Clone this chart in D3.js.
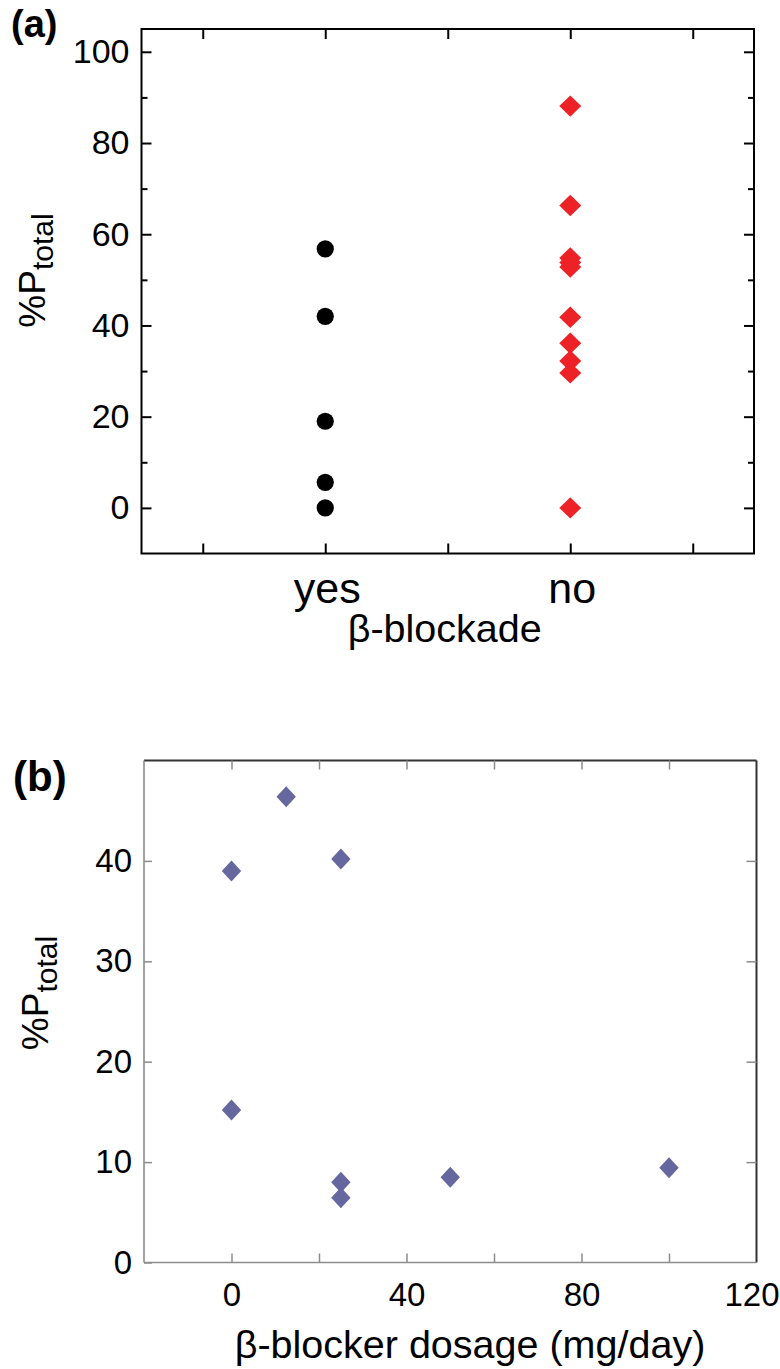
<!DOCTYPE html>
<html>
<head>
<meta charset="utf-8">
<script src="https://cdn.jsdelivr.net/npm/d3@7"></script>
<style>
  html, body { margin: 0; padding: 0; background: #fff; }
  svg { display: block; font-family: "Liberation Sans", Arial, Helvetica, sans-serif; }
</style>
</head>
<body>
<svg id="chart" width="780" height="1369"></svg>
<script>
// ---------- Data ----------
const categoriesA = ["yes", "no"];
const yesValues = [56.8, 42.0, 19.0, 5.6, 0];
const noValues = [88.1, 66.3, 54.8, 53.8, 52.8, 41.8, 36.1, 32.2, 29.6, 0];
const yTicksA = [0, 20, 40, 60, 80, 100];
const yMinorTicksA = [10, 30, 50, 70, 90];
const xTicksA = [0.5, 1.5, 2.5, 3.5, 4.5];

const dosage = [0, 0, 12.5, 25, 25, 25, 50, 100];
const pctB = [39.0, 15.2, 46.4, 40.2, 8.0, 6.45, 8.5, 9.43];
const yTicksB = [0, 10, 20, 30, 40];
const xTicksB = [0, 20, 40, 60, 80, 100];
const xTickLabelsB = [0, 40, 80, 120];

const svg = d3.select("#chart");

// custom diamond symbol with given half-width / half-height
function diamond(hw, hh) {
  return {
    draw(ctx) {
      ctx.moveTo(0, -hh);
      ctx.lineTo(hw, 0);
      ctx.lineTo(0, hh);
      ctx.lineTo(-hw, 0);
      ctx.closePath();
    }
  };
}

// ================= Panel (a) =================
const A = { left: 141.5, right: 754, top: 29, bottom: 553.5 };
const xA = d3.scaleLinear().domain([0, 5]).range([A.left, A.right]);
const yA = d3.scaleLinear().domain([-10, 105]).range([A.bottom, A.top]);
const catPos = c => 1.5 + 2 * categoriesA.indexOf(c);

const gA = svg.append("g");

// frame
gA.append("rect")
  .attr("x", A.left).attr("y", A.top)
  .attr("width", A.right - A.left).attr("height", A.bottom - A.top)
  .attr("fill", "none").attr("stroke", "#000").attr("stroke-width", 2);

function styleAxis(g, color, width) {
  g.select(".domain").remove();
  g.selectAll(".tick line").attr("stroke", color).attr("stroke-width", width);
}

// left major
gA.append("g").attr("transform", `translate(${A.left},0)`)
  .call(d3.axisLeft(yA).tickValues(yTicksA).tickSize(-10).tickPadding(12).tickFormat(d3.format("d")))
  .call(g => styleAxis(g, "#000", 2))
  .call(g => g.selectAll("text").attr("font-size", 34).attr("fill", "#000")
        .attr("font-family", "Liberation Sans, Arial, sans-serif"));
// left minor
gA.append("g").attr("transform", `translate(${A.left},0)`)
  .call(d3.axisLeft(yA).tickValues(yMinorTicksA).tickSize(-6).tickFormat(""))
  .call(g => styleAxis(g, "#000", 2));
// right major/minor
gA.append("g").attr("transform", `translate(${A.right},0)`)
  .call(d3.axisRight(yA).tickValues(yTicksA).tickSize(-10).tickFormat(""))
  .call(g => styleAxis(g, "#000", 2));
gA.append("g").attr("transform", `translate(${A.right},0)`)
  .call(d3.axisRight(yA).tickValues(yMinorTicksA).tickSize(-6).tickFormat(""))
  .call(g => styleAxis(g, "#000", 2));
// bottom / top ticks
gA.append("g").attr("transform", `translate(0,${A.bottom})`)
  .call(d3.axisBottom(xA).tickValues(xTicksA).tickSize(-10).tickFormat(""))
  .call(g => styleAxis(g, "#000", 2));
gA.append("g").attr("transform", `translate(0,${A.top})`)
  .call(d3.axisTop(xA).tickValues(xTicksA).tickSize(-10).tickFormat(""))
  .call(g => styleAxis(g, "#000", 2));

// category labels
gA.selectAll("text.cat").data(categoriesA).join("text")
  .attr("class", "cat")
  .attr("x", d => xA(catPos(d)) + 2)
  .attr("y", 603)
  .attr("text-anchor", "middle")
  .attr("font-size", 43)
  .text(d => d);

// axis titles
gA.append("text")
  .attr("x", (A.left + A.right) / 2 - 3).attr("y", 642)
  .attr("text-anchor", "middle").attr("font-size", 39.5)
  .text("β-blockade");

const yLabA = gA.append("text")
  .attr("transform", "translate(45,270.5) rotate(-90)")
  .attr("text-anchor", "middle").attr("font-size", 37);
yLabA.append("tspan").text("%P");
yLabA.append("tspan").attr("font-size", 30).attr("dy", 8).text("total");

gA.append("text").attr("x", 11).attr("y", 37)
  .attr("font-size", 38).attr("font-weight", "bold").text("(a)");

// points
gA.selectAll("circle.yes").data(yesValues).join("circle")
  .attr("class", "yes")
  .attr("cx", xA(catPos("yes")))
  .attr("cy", d => yA(d))
  .attr("r", 8.6)
  .attr("fill", "#000");

const diamA = d3.symbol().type(diamond(11, 10.7));
gA.selectAll("path.no").data(noValues).join("path")
  .attr("class", "no")
  .attr("d", diamA)
  .attr("transform", d => `translate(${xA(catPos("no"))},${yA(d)})`)
  .attr("fill", "#ed2226");

// ================= Panel (b) =================
const B = { left: 144, right: 756.5, top: 760.5, bottom: 1262.5 };
const xB = d3.scaleLinear().domain([-20, 120]).range([B.left, B.right]);
const yB = d3.scaleLinear().domain([0, 50]).range([B.bottom, B.top]);

const gB = svg.append("g");
const gray = "#8c8c8c";
const dark = "#333";

// top and right frame (dark)
gB.append("line").attr("x1", B.left).attr("x2", B.right).attr("y1", B.top).attr("y2", B.top)
  .attr("stroke", dark).attr("stroke-width", 2);
gB.append("line").attr("x1", B.right).attr("x2", B.right).attr("y1", B.top).attr("y2", B.bottom)
  .attr("stroke", dark).attr("stroke-width", 2);
// left and bottom (gray)
gB.append("line").attr("x1", B.left).attr("x2", B.left).attr("y1", B.top).attr("y2", B.bottom)
  .attr("stroke", gray).attr("stroke-width", 1.6);
gB.append("line").attr("x1", B.left).attr("x2", B.right).attr("y1", B.bottom).attr("y2", B.bottom)
  .attr("stroke", gray).attr("stroke-width", 1.6);

// left axis
gB.append("g").attr("transform", `translate(${B.left},0)`)
  .call(d3.axisLeft(yB).tickValues(yTicksB).tickSize(-8).tickPadding(12).tickFormat(d3.format("d")))
  .call(g => styleAxis(g, gray, 1.5))
  .call(g => g.selectAll("text").attr("font-size", 33).attr("fill", "#000")
        .attr("font-family", "Liberation Sans, Arial, sans-serif"));
// right axis ticks
gB.append("g").attr("transform", `translate(${B.right},0)`)
  .call(d3.axisRight(yB).tickValues(yTicksB.filter(d => d > 0)).tickSize(-10).tickFormat(""))
  .call(g => styleAxis(g, gray, 1.5));
// bottom ticks
gB.append("g").attr("transform", `translate(0,${B.bottom})`)
  .call(d3.axisBottom(xB).tickValues(xTicksB).tickSize(-9).tickFormat(""))
  .call(g => styleAxis(g, gray, 1.5));
// bottom labels
gB.append("g").attr("transform", `translate(0,${B.bottom})`)
  .call(d3.axisBottom(xB).tickValues(xTickLabelsB).tickSize(0).tickPadding(20).tickFormat(d3.format("d")))
  .call(g => g.select(".domain").remove())
  .call(g => g.selectAll(".tick line").remove())
  .call(g => g.selectAll("text").attr("font-size", 33).attr("fill", "#000")
        .attr("font-family", "Liberation Sans, Arial, sans-serif")
        .attr("dx", d => d === 120 ? -5 : 0));
// top ticks
gB.append("g").attr("transform", `translate(0,${B.top})`)
  .call(d3.axisTop(xB).tickValues(xTicksB).tickSize(-9).tickFormat(""))
  .call(g => styleAxis(g, gray, 1.5));

// titles
gB.append("text")
  .attr("x", 470).attr("y", 1358)
  .attr("text-anchor", "middle").attr("font-size", 39.5)
  .text("β-blocker dosage (mg/day)");

const yLabB = gB.append("text")
  .attr("transform", "translate(48,993) rotate(-90)")
  .attr("text-anchor", "middle").attr("font-size", 37);
yLabB.append("tspan").text("%P");
yLabB.append("tspan").attr("font-size", 30).attr("dy", 9).text("total");

gB.append("text").attr("x", 13).attr("y", 791)
  .attr("font-size", 42).attr("font-weight", "bold").text("(b)");

// points
const diamB = d3.symbol().type(diamond(9.7, 10.5));
gB.selectAll("path.pt").data(dosage.map((d, i) => ({ x: d, y: pctB[i] }))).join("path")
  .attr("class", "pt")
  .attr("d", diamB)
  .attr("transform", d => `translate(${xB(d.x)},${yB(d.y)})`)
  .attr("fill", "#65679e");
</script>
</body>
</html>
